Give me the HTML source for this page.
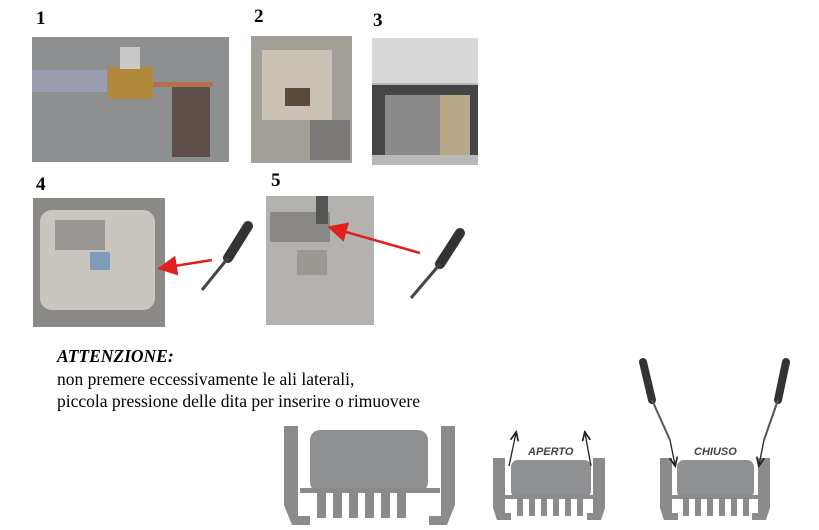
<!DOCTYPE html>
<html><head><style>
body{margin:0;width:819px;height:530px;background:#fff;overflow:hidden;position:relative;font-family:"Liberation Serif",serif}
.n{position:absolute;font-weight:bold;font-size:19px}
.t{position:absolute;left:57px;font-size:17.5px;line-height:22.5px;top:345px;white-space:nowrap}
</style></head><body>
<div class="n" style="left:36px;top:8px">1</div>
<div class="n" style="left:254px;top:6px">2</div>
<div class="n" style="left:373px;top:10px">3</div>
<div class="n" style="left:36px;top:174px">4</div>
<div class="n" style="left:271px;top:170px">5</div>
<div class="t"><b><i>ATTENZIONE:</i></b><br>non premere eccessivamente le ali laterali,<br>piccola pressione delle dita per inserire o rimuovere</div>
<svg width="819" height="530" style="position:absolute;left:0;top:0">
<defs><marker id="r" markerWidth="8" markerHeight="8" refX="6" refY="4" orient="auto"><path d="M0,0L8,4L0,8z" fill="#e02020"/></marker>
<marker id="k" markerWidth="8" markerHeight="8" refX="6" refY="4" orient="auto"><path d="M0,1L7,4L0,7" fill="none" stroke="#222" stroke-width="1.3"/></marker></defs>
<rect x="32" y="37" width="197" height="125" fill="#8e8f91"/>
<rect x="32" y="70" width="75" height="22" fill="#9a9cb0"/>
<rect x="108" y="67" width="45" height="32" fill="#b08a3a"/>
<rect x="120" y="47" width="20" height="22" fill="#c9c9c9"/>
<rect x="153" y="82" width="60" height="5" fill="#b0704a"/>
<rect x="172" y="87" width="38" height="70" fill="#5e4f4a"/>
<rect x="251" y="36" width="101" height="127" fill="#a29f99"/>
<rect x="262" y="50" width="70" height="70" fill="#c8c1b4"/>
<rect x="285" y="88" width="25" height="18" fill="#5a4a3a"/>
<rect x="310" y="120" width="40" height="40" fill="#7a7876"/>
<rect x="372" y="38" width="106" height="127" fill="#b9b8b6"/>
<rect x="372" y="38" width="106" height="45" fill="#d8d8d8"/>
<rect x="372" y="85" width="106" height="70" fill="#454546"/>
<rect x="385" y="95" width="60" height="60" fill="#8a8a8a"/>
<rect x="440" y="95" width="30" height="60" fill="#b8a88a"/>
<rect x="33" y="198" width="132" height="129" fill="#8b8a86"/>
<rect x="40" y="210" width="115" height="100" rx="12" fill="#c9c6bf"/>
<rect x="55" y="220" width="50" height="30" fill="#9a9895"/>
<rect x="90" y="252" width="20" height="18" fill="#7d9cb8"/>
<rect x="266" y="196" width="108" height="129" fill="#b4b2ae"/>
<rect x="270" y="212" width="60" height="30" fill="#8a8884"/>
<rect x="297" y="250" width="30" height="25" fill="#9c9894"/>
<rect x="316" y="196" width="12" height="28" fill="#555"/>
<line x1="212" y1="260" x2="162" y2="268" stroke="#e02020" stroke-width="2.5" marker-end="url(#r)"/>
<line x1="420" y1="253" x2="332" y2="228" stroke="#e02020" stroke-width="2.5" marker-end="url(#r)"/>
<line x1="248" y1="226" x2="228" y2="258" stroke="#333" stroke-width="10" stroke-linecap="round"/>
<line x1="228" y1="258" x2="202" y2="290" stroke="#444" stroke-width="3"/>
<line x1="460" y1="233" x2="440" y2="264" stroke="#333" stroke-width="10" stroke-linecap="round"/>
<line x1="440" y1="264" x2="411" y2="298" stroke="#444" stroke-width="3"/>
<g fill="#8a8b8d">
<path d="M284 426h14v90h12v9h-18l-8-20z"/>
<path d="M455 426h-14v90h-12v9h18l8-20z"/>
<rect x="310" y="430" width="118" height="62" rx="10" fill="#8f9092"/>
<rect x="300" y="488" width="140" height="5"/>
<rect x="317" y="492" width="9" height="26"/><rect x="333" y="492" width="9" height="26"/><rect x="349" y="492" width="9" height="26"/><rect x="365" y="492" width="9" height="26"/><rect x="381" y="492" width="9" height="26"/><rect x="397" y="492" width="9" height="26"/>
</g>
<g fill="#8a8b8d">
<path d="M493 458h12v55h6v7h-14l-4-12z"/>
<path d="M605 458h-12v55h-6v7h14l4-12z"/>
<rect x="511" y="460" width="80" height="38" rx="7" fill="#8f9092"/>
<rect x="503" y="495" width="95" height="4"/>
<rect x="517" y="498" width="6" height="18"/><rect x="529" y="498" width="6" height="18"/><rect x="541" y="498" width="6" height="18"/><rect x="553" y="498" width="6" height="18"/><rect x="565" y="498" width="6" height="18"/><rect x="577" y="498" width="6" height="18"/>
</g>
<line x1="509" y1="466" x2="516" y2="433" stroke="#222" stroke-width="1.3" marker-end="url(#k)"/>
<line x1="591" y1="466" x2="585" y2="433" stroke="#222" stroke-width="1.3" marker-end="url(#k)"/>
<text x="528" y="455" font-family="Liberation Sans,sans-serif" font-size="11" font-style="italic" font-weight="bold" fill="#444">APERTO</text>
<g fill="#8a8b8d">
<path d="M660 458h12v55h6v7h-14l-4-12z"/>
<path d="M770 458h-12v55h-6v7h14l4-12z"/>
<rect x="677" y="460" width="77" height="38" rx="7" fill="#8f9092"/>
<rect x="670" y="495" width="92" height="4"/>
<rect x="683" y="498" width="6" height="18"/><rect x="695" y="498" width="6" height="18"/><rect x="707" y="498" width="6" height="18"/><rect x="719" y="498" width="6" height="18"/><rect x="731" y="498" width="6" height="18"/><rect x="743" y="498" width="6" height="18"/>
</g>
<text x="694" y="455" font-family="Liberation Sans,sans-serif" font-size="11" font-style="italic" font-weight="bold" fill="#444">CHIUSO</text>
<line x1="643" y1="362" x2="652" y2="400" stroke="#333" stroke-width="8" stroke-linecap="round"/>
<line x1="652" y1="400" x2="670" y2="440" stroke="#555" stroke-width="2"/>
<line x1="670" y1="440" x2="675" y2="465" stroke="#222" stroke-width="1.3" marker-end="url(#k)"/>
<line x1="786" y1="362" x2="778" y2="400" stroke="#333" stroke-width="8" stroke-linecap="round"/>
<line x1="778" y1="400" x2="764" y2="440" stroke="#555" stroke-width="2"/>
<line x1="764" y1="440" x2="759" y2="465" stroke="#222" stroke-width="1.3" marker-end="url(#k)"/>
</svg>
</body></html>
